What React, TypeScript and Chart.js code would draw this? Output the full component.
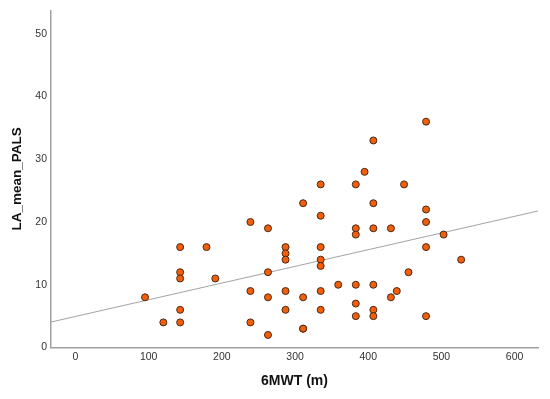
import React, { useEffect, useRef } from "react";
import { Chart, registerables } from "chart.js";

Chart.register(...registerables);

// 6MWT distance (m) for each subject
const walkDistance = [
  95, 120, 143, 143, 143, 143, 143, 179, 191,
  239, 239, 239,
  263, 263, 263, 263,
  287, 287, 287, 287, 287,
  311, 311, 311, 311,
  335, 335, 335, 335, 335, 335, 335,
  359,
  383, 383, 383, 383, 383, 383,
  395,
  407, 407, 407, 407, 407, 407,
  431, 431, 439,
  449, 455,
  479, 479, 479, 479, 479,
  503, 527,
];

// LA_mean_PALS for each subject
const laMeanPals = [
  8, 4, 16, 12, 11, 6, 4, 16, 11,
  20, 9, 4,
  19, 12, 8, 2,
  16, 15, 14, 9, 6,
  23, 8, 3, 3,
  26, 21, 16, 14, 13, 9, 6,
  10,
  26, 19, 18, 10, 7, 5,
  28,
  33, 23, 19, 10, 6, 5,
  19, 8, 9,
  26, 12,
  36, 22, 20, 16, 5,
  18, 14,
];

const xTickValues = [0, 100, 200, 300, 400, 500, 600];
const yTickValues = [0, 10, 20, 30, 40, 50];
const xRange = [-33.5, 632];
const yRange = [0, 53.75];
const fitIntercept = [4.95];
const fitSlope = [0.0266];

export default function App() {
  const canvasRef = useRef<HTMLCanvasElement | null>(null);

  useEffect(() => {
    const canvas = canvasRef.current;
    if (!canvas) return;
    const points = walkDistance.map((x, i) => ({ x, y: laMeanPals[i] }));
    const fitLine = xRange.map((x) => ({ x, y: fitIntercept[0] + fitSlope[0] * x }));

    const tickFont = { family: "'Liberation Sans', Arial, sans-serif", size: 10.5 };
    const titleFont = { family: "'Liberation Sans', Arial, sans-serif", size: 14, weight: "bold" as const };

    const chart = new Chart(canvas, {
      type: "scatter",
      data: {
        datasets: [
          {
            label: "points",
            data: points,
            backgroundColor: "#f25e0a",
            borderColor: "#4a2a16",
            borderWidth: 1,
            pointRadius: 3.5,
            order: 1,
          },
          {
            label: "fit",
            data: fitLine,
            showLine: true,
            borderColor: "#a3a3a3",
            borderWidth: 1,
            pointRadius: 0,
            order: 2,
          },
        ],
      },
      options: {
        responsive: false,
        animation: false,
        layout: { padding: { top: 7, right: 12, left: 0, bottom: 0 } },
        plugins: {
          legend: { display: false },
          tooltip: { enabled: false },
        },
        scales: {
          x: {
            type: "linear",
            min: xRange[0],
            max: xRange[1],
            afterBuildTicks: (scale: any) => {
              scale.ticks = xTickValues.map((v) => ({ value: v }));
            },
            afterFit: (scale: any) => {
              scale.height = 51.5;
            },
            grid: { display: false, drawTicks: false },
            border: { display: true, color: "#a0a0a0", width: 1.5 },
            ticks: { font: tickFont, color: "#333333", padding: 3, maxRotation: 0, autoSkip: false },
            title: {
              display: true,
              text: "6MWT (m)",
              font: titleFont,
              color: "#111111",
              padding: { top: 0, bottom: 9 },
            },
          },
          y: {
            type: "linear",
            min: yRange[0],
            max: yRange[1],
            afterBuildTicks: (scale: any) => {
              scale.ticks = yTickValues.map((v) => ({ value: v }));
            },
            afterFit: (scale: any) => {
              scale.width = 51;
            },
            grid: { display: false, drawTicks: false },
            border: { display: true, color: "#a0a0a0", width: 1.5 },
            ticks: { font: tickFont, color: "#333333", padding: 4, autoSkip: false },
            title: {
              display: true,
              text: "LA_mean_PALS",
              font: { ...titleFont, size: 13.5 },
              color: "#111111",
              padding: { top: 9, bottom: 0 },
            },
          },
        },
      },
    });
    return () => chart.destroy();
  }, []);

  return (
    <div style={{ position: "fixed", left: 0, top: 0, width: 550, height: 399, background: "#ffffff" }}>
      <canvas ref={canvasRef} width={550} height={399} />
    </div>
  );
}
